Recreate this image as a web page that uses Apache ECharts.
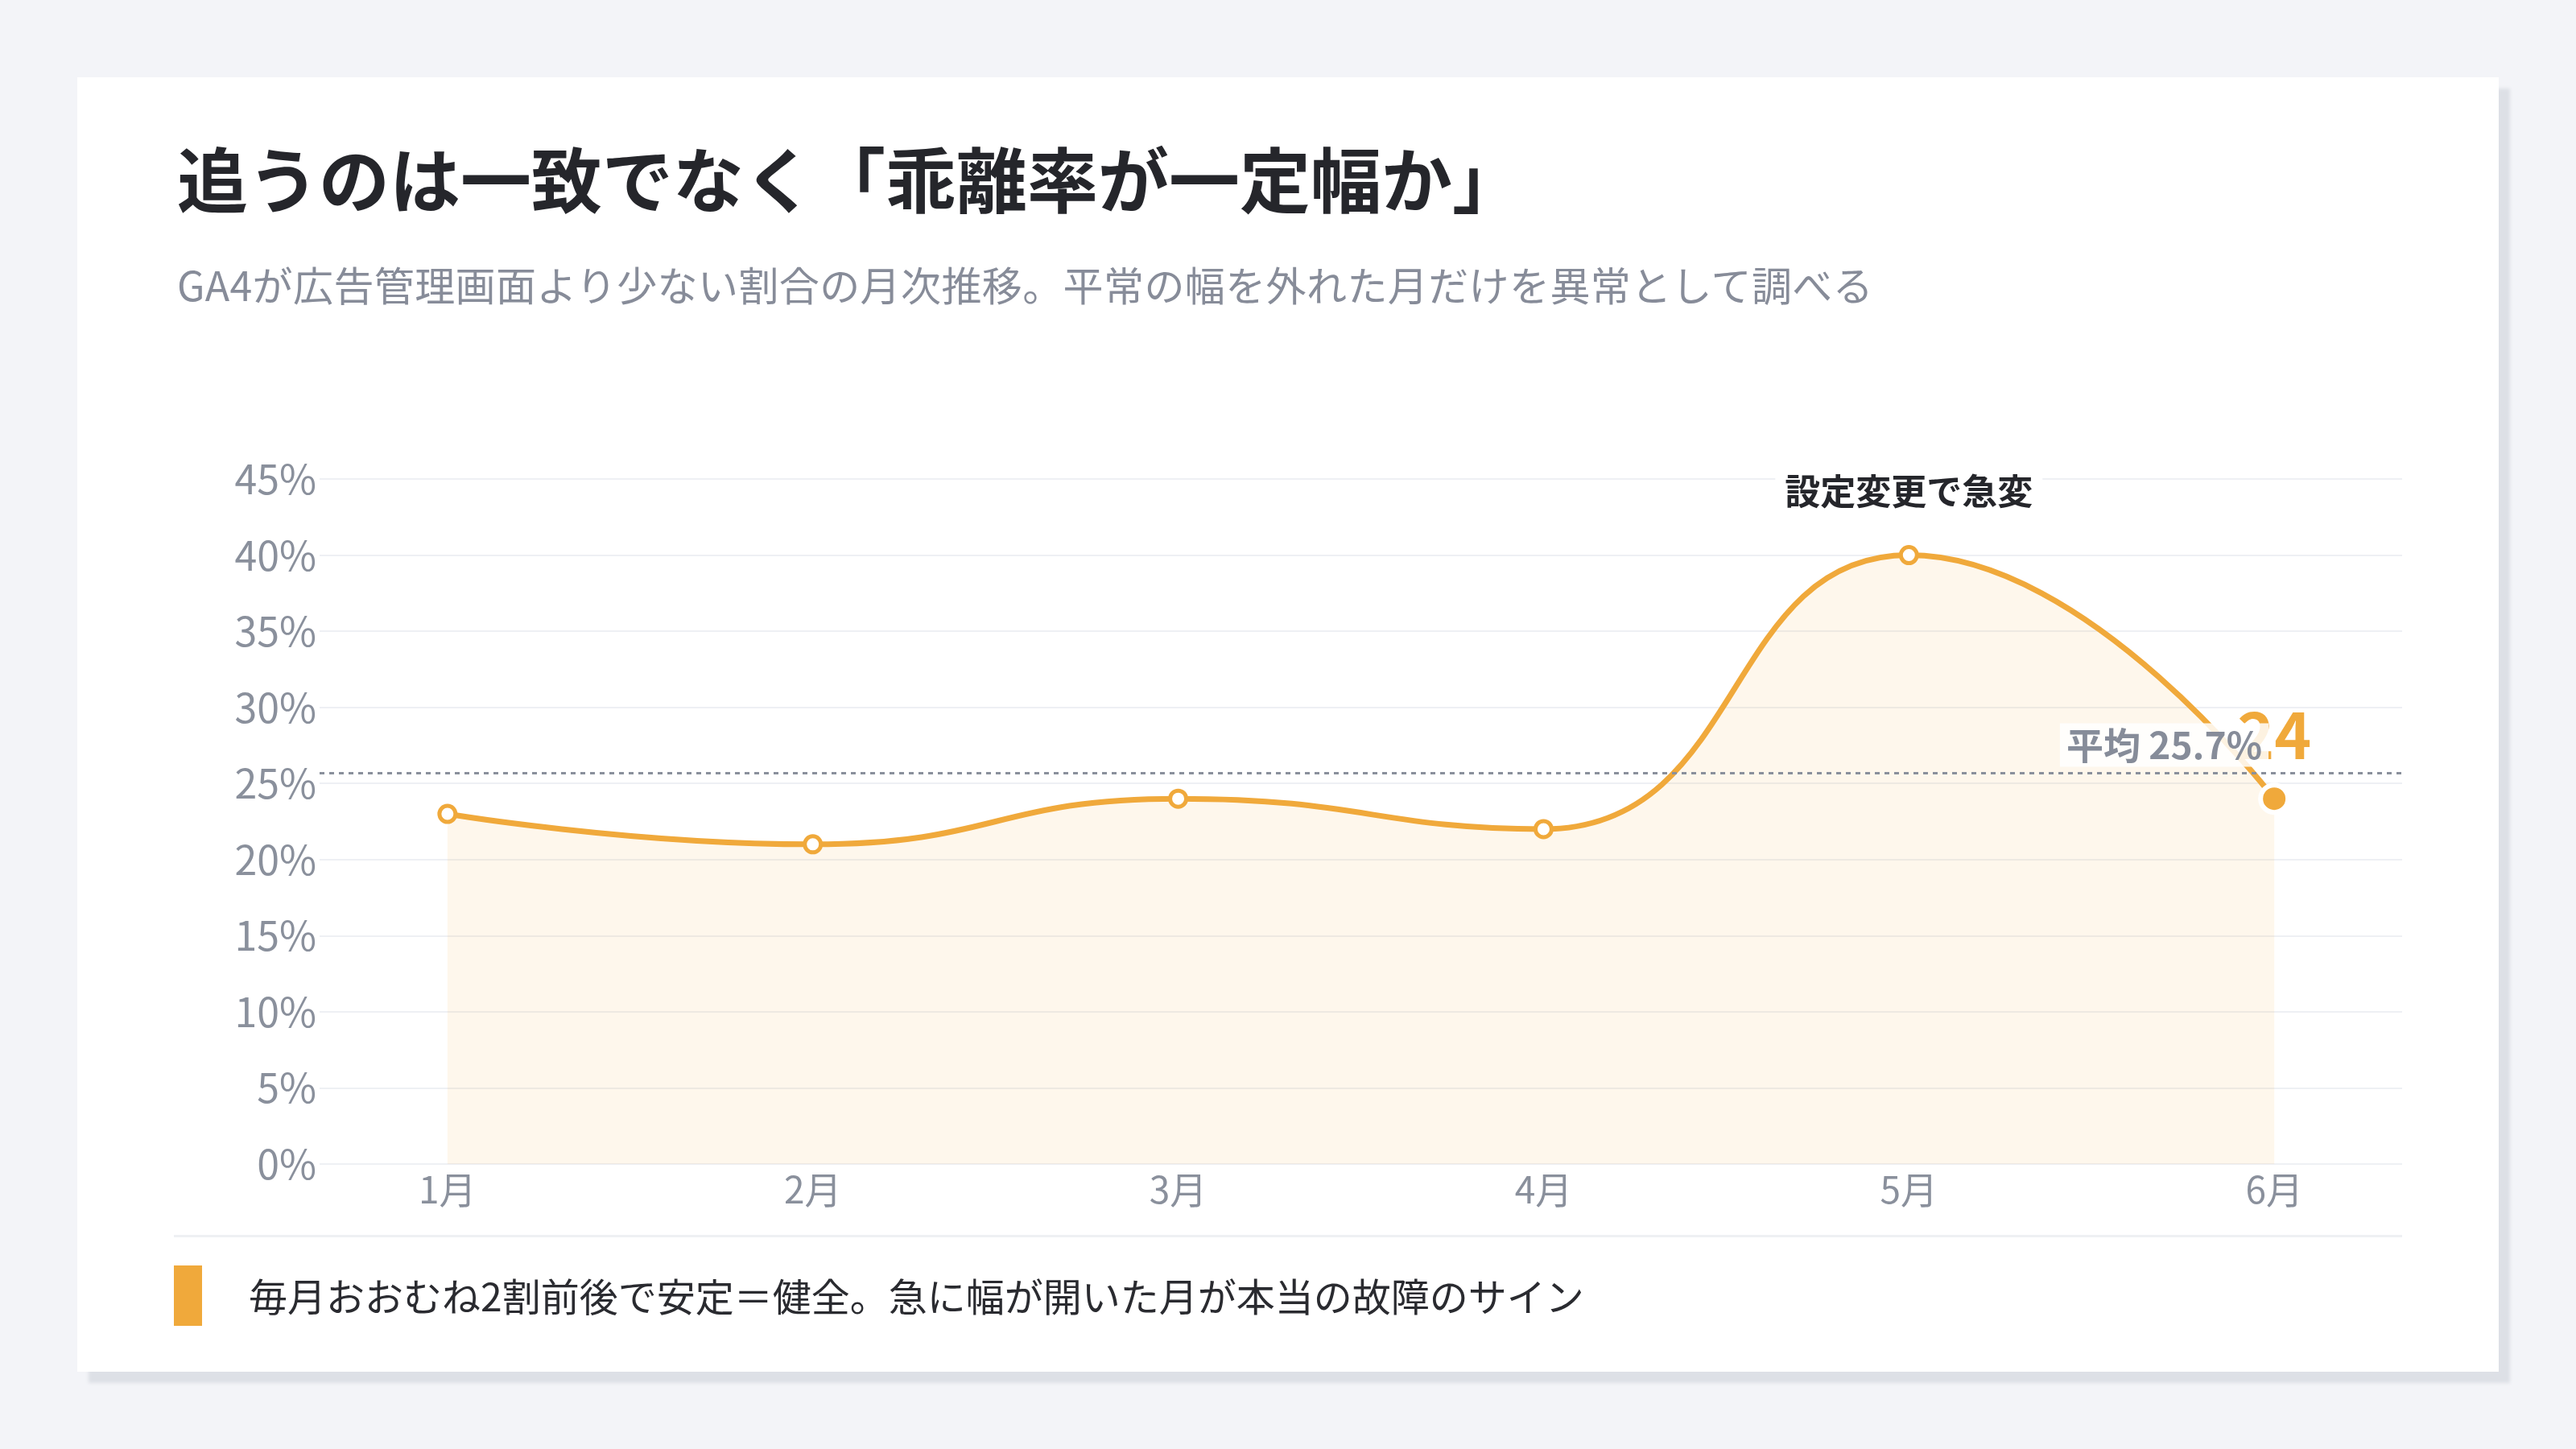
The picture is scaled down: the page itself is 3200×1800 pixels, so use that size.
<!DOCTYPE html>
<html lang="ja">
<head>
<meta charset="utf-8">
<title>乖離率の月次推移</title>
<script src="https://cdn.jsdelivr.net/npm/echarts@6/dist/echarts.min.js"></script>
<style>
  html, body { margin: 0; padding: 0; }
  body {
    width: 3200px; height: 1800px; position: relative; overflow: hidden;
    background: #f3f4f8;
    font-family: "Noto Sans CJK JP", "Noto Sans", sans-serif;
  }
  .card {
    position: absolute; left: 96px; top: 96px; width: 3008px; height: 1608px;
    background: #fff; box-shadow: 14px 14px 4px #dde0e6;
  }
  .title {
    position: absolute; left: 220px; top: 175px; margin: 0;
    font-size: 88px; line-height: 1; font-weight: 700; color: #25262b;
  }
  .sub {
    position: absolute; left: 220px; top: 327px; margin: 0;
    font-size: 50px; line-height: 1; letter-spacing: 0.4px; color: #878c99;
  }
  .rule {
    position: absolute; left: 216px; top: 1534px; width: 2768px; height: 3px;
    background: #eef0f3;
  }
  .bar {
    position: absolute; left: 216px; top: 1572px; width: 35px; height: 75px;
    background: #f0a93b;
  }
  .note {
    position: absolute; left: 309px; top: 1584px; margin: 0;
    font-size: 48px; line-height: 1; color: #2a2b30;
  }
  #chart { position: absolute; left: 0; top: 0; width: 3200px; height: 1800px; }
</style>
</head>
<body>
<div class="card"></div>
<h1 class="title">追うのは一致でなく「乖離率が一定幅か」</h1>
<p class="sub">GA4が広告管理画面より少ない割合の月次推移。平常の幅を外れた月だけを異常として調べる</p>
<div id="chart"></div>
<div class="rule"></div>
<div class="bar"></div>
<p class="note">毎月おおむね2割前後で安定＝健全。急に幅が開いた月が本当の故障のサイン</p>

<script>
// 月ごとの乖離率（%）
const months = ['1月', '2月', '3月', '4月', '5月', '6月'];
const rates = [23, 21, 24, 22, 40, 24];
const notes = ['', '', '', '', '設定変更で急変', ''];
const yMin = 0;
const yMax = 45;
const yStep = 5;

const ORANGE = '#f0a93b';
const GRAY = '#8a909c';
const FONT = '"Noto Sans CJK JP", "Noto Sans", sans-serif';

const avg = rates.reduce((s, v) => s + v, 0) / rates.length;
const last = rates.length - 1;

const chart = echarts.init(document.getElementById('chart'), null, { renderer: 'canvas' });

// 点ごとの見た目：注記つきの月と最新月だけ特別扱い
const points = rates.map((v, i) => {
  const item = { value: [i, v] };
  if (notes[i]) {
    item.label = {
      show: true, position: 'top', distance: 37,
      formatter: notes[i],
      fontFamily: FONT, fontSize: 44, fontWeight: 700, color: '#25262b',
      backgroundColor: '#fff', padding: [4, 12], lineHeight: 52,
    };
  }
  if (i === last) {
    item.symbolSize = 34;
    item.itemStyle = { color: ORANGE, borderColor: '#fff', borderWidth: 6 };
    item.label = {
      show: true, position: 'top', distance: 20,
      formatter: String(v),
      fontFamily: FONT, fontSize: 78, fontWeight: 700, color: ORANGE,
    };
  }
  return item;
});

chart.setOption({
  animation: false,
  textStyle: { fontFamily: FONT },
  grid: { left: 397, right: 216, top: 595, bottom: 354, outerBoundsMode: 'none' },
  xAxis: {
    type: 'value', min: -0.35, max: 5.35,
    axisLine: { show: false }, axisTick: { show: false }, splitLine: { show: false },
    axisLabel: {
      customValues: months.map((_, i) => i),
      formatter: v => months[Math.round(v)],
      fontSize: 46, color: GRAY, margin: 9,
    },
  },
  yAxis: {
    type: 'value', min: yMin, max: yMax, interval: yStep,
    axisLine: { show: false }, axisTick: { show: false },
    axisLabel: { formatter: '{value}%', fontSize: 50, color: GRAY, margin: 4 },
    splitLine: { lineStyle: { color: '#eef0f4', width: 2 } },
  },
  series: [{
    type: 'line', data: points, smooth: 0.5,
    symbol: 'circle', symbolSize: 20,
    lineStyle: { color: ORANGE, width: 7 },
    itemStyle: { color: '#fff', borderColor: ORANGE, borderWidth: 5 },
    areaStyle: { color: 'rgba(240,169,59,0.14)' },
    markLine: {
      silent: true, symbol: 'none', z: 20,
      lineStyle: { color: GRAY, type: [6, 6], width: 3 },
      label: {
        position: 'insideEndTop', distance: [166, 8],
        formatter: '平均 ' + avg.toFixed(1) + '%',
        fontFamily: FONT, fontSize: 46, fontWeight: 700, color: '#868c99',
        backgroundColor: 'rgba(255,255,255,0.85)', padding: [4, 8],
      },
      data: [{ yAxis: avg }],
    },
  }],
});
</script>
</body>
</html>
